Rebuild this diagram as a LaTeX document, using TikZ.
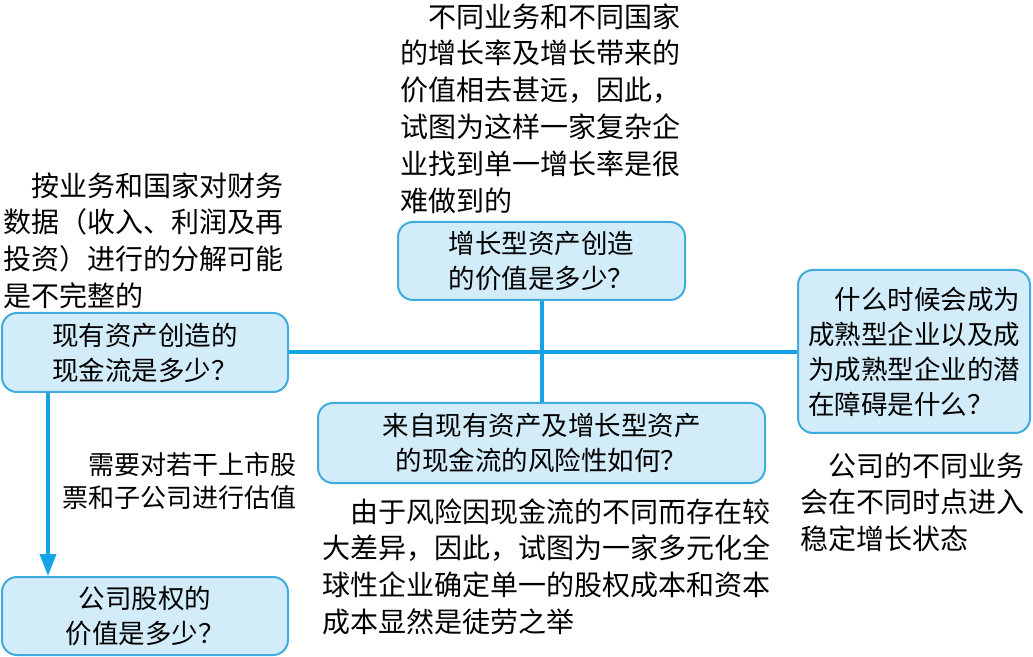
\documentclass[tikz,border=0pt]{standalone}
\usepackage{fontspec}
\setmainfont{Noto Sans CJK SC}
\usetikzlibrary{positioning,calc,arrows.meta}
\definecolor{valfill}{RGB}{210,237,249}
\definecolor{valedge}{RGB}{64,172,221}
\definecolor{vallink}{RGB}{22,163,230}
\tikzset{
  qbox/.style={draw=valedge, fill=valfill, line width=1pt, rounded corners=7.5pt,
    inner sep=2pt, font=\fontsize{13.25}{17.5}\selectfont},
  note/.style={inner sep=0pt, align=left, anchor=north west,
    font=\fontsize{14}{18.4}\selectfont},
  vlink/.style={draw=vallink, line width=2pt}
}

\begin{document}
\begin{tikzpicture}[x=0.5pt,y=-0.5pt]
\useasboundingbox (0,0) rectangle (1033,657);
% question boxes
\node[qbox, minimum width=143pt, minimum height=39.5pt, align=center] (cash) at (145,352.5)
  {现有资产创造的\\现金流是多少？};
\node[qbox, minimum width=143.5pt, minimum height=39pt, align=center] (growth) at (541.5,261)
  {增长型资产创造\\的价值是多少？};
\node[qbox, minimum width=223.5pt, minimum height=40pt, align=center] (risk) at (541.5,443)
  {来自现有资产及增长型资产\\的现金流的风险性如何？};
\node[qbox, minimum width=116pt, minimum height=81.5pt, align=left] (mature) at (914,351.5)
  {\hspace{1em}什么时候会成为\\成熟型企业以及成\\为成熟型企业的潜\\在障碍是什么？};
\node[qbox, minimum width=143pt, minimum height=39pt, align=center] (equity) at (145,616)
  {公司股权的\\价值是多少？};
% remarks
\node[note] (growthnote) at (400,3)
  {\hspace{1em}不同业务和不同国家\\的增长率及增长带来的\\价值相去甚远，因此，\\试图为这样一家复杂企\\业找到单一增长率是很\\难做到的};
\node[note] (cashnote) at (3,172)
  {\hspace{1em}按业务和国家对财务\\数据（收入、利润及再\\投资）进行的分解可能\\是不完整的};
\node[note, font=\fontsize{13}{16.5}\selectfont] (equitynote) at (62,452)
  {\hspace{1em}需要对若干上市股\\票和子公司进行估值};
\node[note] (risknote) at (322,498)
  {\hspace{1em}由于风险因现金流的不同而存在较\\大差异，因此，试图为一家多元化全\\球性企业确定单一的股权成本和资本\\成本显然是徒劳之举};
\node[note] (maturenote) at (800,452)
  {\hspace{1em}公司的不同业务\\会在不同时点进入\\稳定增长状态};
% connectors
\draw[vlink] (cash.east) -- (cash.east -| mature.west);
\draw[vlink] (growth.south) -- (risk.north);
\draw[vlink, -{Triangle[length=11pt,width=8pt]}] ([xshift=23.5pt]cash.south west) -- ([xshift=23.5pt]equity.north west);
\end{tikzpicture}
\end{document}
